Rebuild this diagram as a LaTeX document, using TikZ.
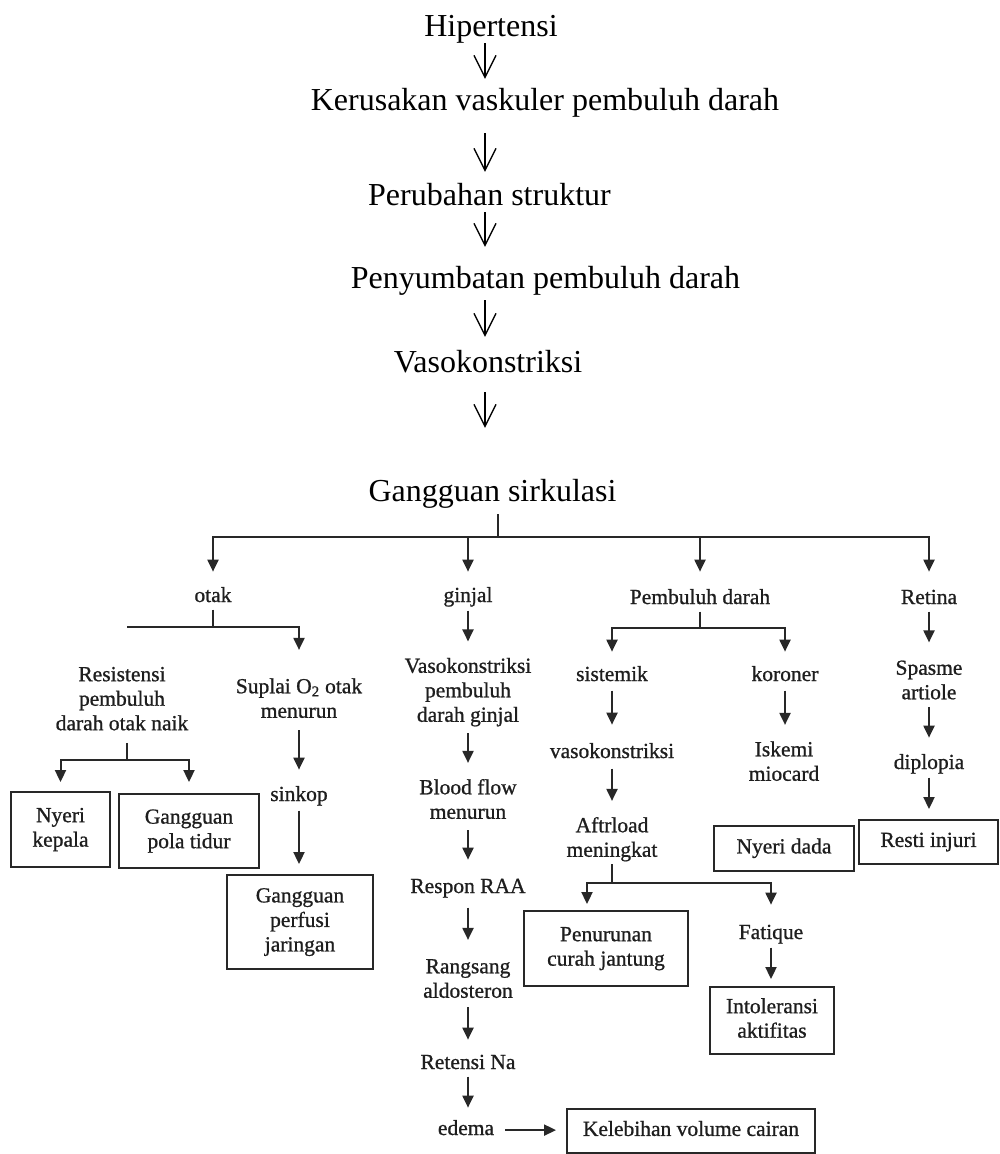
\documentclass[tikz,border=0pt]{standalone}
\usepackage{fontspec}
\setmainfont{Liberation Serif}
\newfontfamily\lowfont[FakeBold=0.9]{Liberation Serif}
\usetikzlibrary{arrows.meta,calc}
\definecolor{ln}{RGB}{40,40,40}
\definecolor{tx}{RGB}{30,30,30}
\begin{document}
\begin{tikzpicture}[x=1pt,y=-1pt,
  top/.style={font=\fontsize{32}{38}\selectfont, inner sep=0pt, text height=22pt, text depth=7pt, anchor=base},
  toparr/.style={line width=1.3pt, -{Straight Barb[length=22pt,width=22pt]}},
  lt/.style={font=\lowfont\fontsize{21.5}{24.5}\selectfont, align=center, inner sep=0pt, text=tx},
  bx/.style={lt, draw=ln, line width=1.9pt},
  ln/.style={draw=ln, line width=2pt},
  arr/.style={ln, -{Triangle[length=12pt,width=11pt]}}]
\useasboundingbox (0,0) rectangle (999,1154);
% ---- top chain
\node[top] (hip) at (491,36) {Hipertensi};
\node[top] (ker) at (545,110) {Kerusakan vaskuler pembuluh darah};
\node[top] (per) at (489.5,205) {Perubahan struktur};
\node[top] (pyb) at (545.5,288) {Penyumbatan pembuluh darah};
\node[top] (vas) at (488,372) {Vasokonstriksi};
\node[top] (gan) at (492.5,501) {Gangguan sirkulasi};
\coordinate (ax) at (485,0);
\draw[toparr, shorten >=9pt] (ax |- hip.south) -- (ax |- ker.north);
\draw[toparr, shorten <=16pt, shorten >=11pt] (ax |- ker.south) -- (ax |- per.north);
\draw[toparr, shorten >=19pt] (ax |- per.south) -- (ax |- pyb.north);
\draw[toparr, shorten <=5pt, shorten >=13pt] (ax |- pyb.south) -- (ax |- vas.north);
\draw[toparr, shorten <=13pt, shorten >=51pt] (ax |- vas.south) -- (ax |- gan.north);
% ---- level 1
\node[lt] (otak) at (213,597.1) {\strut otak};
\node[lt] (ginjal) at (468,597.1) {\strut ginjal};
\node[lt] (pd) at (700,599.1) {\strut Pembuluh darah};
\node[lt] (retina) at (929,599.1) {\strut Retina};
\coordinate (g1) at (498,537);
\draw[ln, shorten <=6pt] (g1 |- gan.south) -- (g1);
\draw[arr, shorten >=13pt] (g1) -| (otak.north);
\draw[arr, shorten >=13pt] (g1) -| (ginjal.north);
\draw[arr, shorten >=15pt] (g1) -| (pd.north);
\draw[arr, shorten >=15pt] (g1) -| (retina.north);
% ---- otak branch
\node[lt] (resist) at (122,700.8) {\strut Resistensi\\\strut pembuluh\\\strut darah otak naik};
\node[lt] (suplai) at (299,700.6) {\strut Suplai O\textsubscript{2} otak\\\strut menurun};
\coordinate (o1) at (213,627);
\coordinate (o2) at (127,627);
\draw[ln] (otak.south) -- (o1) -- (o2);
\draw[arr, shorten >=26pt] (o1) -| (suplai.north);
\node[bx, minimum width=99pt, minimum height=75pt] (nk) at (60.5,829.5) {\strut Nyeri\\\strut kepala};
\node[bx, minimum width=140pt, minimum height=74pt] (gpt) at (189,831) {\strut Gangguan\\\strut pola tidur};
\coordinate (r1) at (127,760);
\draw[ln, shorten <=5pt] (r1 |- resist.south) -- (r1);
\draw[arr, shorten >=9pt] (r1) -| (nk.north);
\draw[arr, shorten >=11pt] (r1) -| (gpt.north);
\node[lt] (sinkop) at (299,796.1) {\strut sinkop};
\node[bx, minimum width=146pt, minimum height=94pt] (perf) at (300,922) {\strut Gangguan\\\strut perfusi\\\strut jaringan};
\draw[arr, shorten <=5pt, shorten >=14pt] (suplai.south) -- (suplai.south |- sinkop.north);
\draw[arr, shorten <=2pt, shorten >=10pt] (sinkop.south) -- (sinkop.south |- perf.north);
% ---- ginjal branch
\node[lt] (vg) at (468,692.4) {\strut Vasokonstriksi\\\strut pembuluh\\\strut darah ginjal};
\node[lt] (bf) at (468,801.6) {\strut Blood flow\\\strut menurun};
\node[lt] (raa) at (468,888.1) {\strut Respon RAA};
\node[lt] (rang) at (468,980.6) {\strut Rangsang\\\strut aldosteron};
\node[lt] (rna) at (468,1064.1) {\strut Retensi Na};
\node[lt] (edema) at (466,1130.1) {\strut edema};
\node[bx, minimum width=248pt, minimum height=44pt] (keleb) at (691,1131) {\strut Kelebihan volume cairan};
\draw[arr, shorten <=1pt, shorten >=14pt] (ginjal.south) -- (ginjal.south |- vg.north);
\draw[arr, shorten <=4pt, shorten >=14pt] (vg.south) -- (vg.south |- bf.north);
\draw[arr, shorten <=4pt, shorten >=16pt] (bf.south) -- (bf.south |- raa.north);
\draw[arr, shorten <=7pt, shorten >=16pt] (raa.south) -- (raa.south |- rang.north);
\draw[arr, shorten <=2pt, shorten >=12pt] (rang.south) -- (rang.south |- rna.north);
\draw[arr, shorten >=10pt] (rna.south) -- (rna.south |- edema.north);
\draw[arr, shorten <=11pt, shorten >=10pt] (edema.east) -- (edema.east -| keleb.west);
% ---- pembuluh darah branch
\node[lt] (sist) at (612,676.1) {\strut sistemik};
\node[lt] (kor) at (785,676.1) {\strut koroner};
\coordinate (p1) at (700,628);
\draw[ln] (pd.south) -- (p1);
\draw[arr, shorten >=12pt] (p1) -| (sist.north);
\draw[arr, shorten >=12pt] (p1) -| (kor.north);
\node[lt] (vk) at (612,753.1) {\strut vasokonstriksi};
\node[lt] (aft) at (612,839.6) {\strut Aftrload\\\strut meningkat};
\node[lt] (isk) at (784,763.6) {\strut Iskemi\\\strut miocard};
\node[bx, minimum width=140pt, minimum height=45pt] (nd) at (784,848.5) {\strut Nyeri dada};
\draw[arr, shorten <=2pt, shorten >=16pt] (sist.south) -- (sist.south |- vk.north);
\draw[arr, shorten <=3pt, shorten >=14pt] (vk.south) -- (vk.south |- aft.north);
\draw[arr, shorten <=2pt, shorten >=14pt] (kor.south) -- (kor.south |- isk.north);
\node[bx, minimum width=164pt, minimum height=75pt] (pen) at (606,948.5) {\strut Penurunan\\\strut curah jantung};
\node[lt] (fat) at (771,934.1) {\strut Fatique};
\node[bx, minimum width=124pt, minimum height=67pt] (into) at (772,1020.5) {\strut Intoleransi\\\strut aktifitas};
\coordinate (a1) at (612,883);
\draw[ln] (aft.south) -- (a1);
\draw[arr, shorten >=6pt] (a1) -| ([xshift=-19pt]pen.north);
\draw[arr, shorten >=17pt] (a1) -| (fat.north);
\draw[arr, shorten <=1pt, shorten >=7pt] (fat.south) -- (fat.south |- into.north);
% ---- retina branch
\node[lt] (spas) at (929,682.1) {\strut Spasme\\\strut artiole};
\node[lt] (dip) at (929,764.1) {\strut diplopia};
\node[bx, minimum width=139pt, minimum height=44pt] (resti) at (928.5,842) {\strut Resti injuri};
\draw[arr, shorten >=15pt] (retina.south) -- (retina.south |- spas.north);
\draw[arr, shorten >=14pt] (spas.south) -- (spas.south |- dip.north);
\draw[arr, shorten <=1pt, shorten >=10pt] (dip.south) -- (dip.south |- resti.north);
\end{tikzpicture}
\end{document}
